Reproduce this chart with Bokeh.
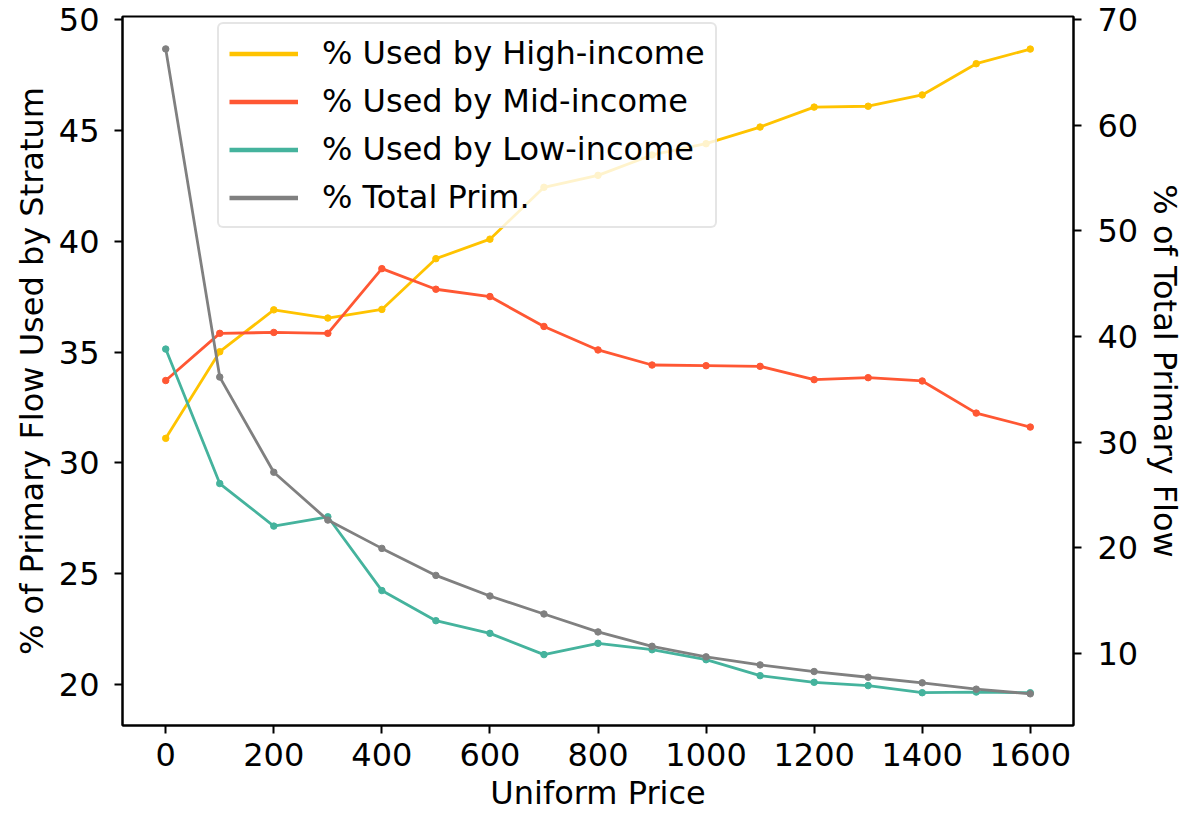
from bokeh.plotting import figure
from bokeh.models import Range1d, LinearAxis, FixedTicker, Legend, LegendItem
from bokeh.embed import file_html
from bokeh.resources import INLINE

prices = [0, 100, 200, 300, 400, 500, 600, 700, 800, 900, 1000, 1100, 1200, 1300, 1400, 1500, 1600]
high_income = [31.11, 35.02, 36.91, 36.54, 36.93, 39.22, 40.10, 42.44, 42.98, 43.90, 44.41, 45.16, 46.06, 46.10, 46.61, 48.02, 48.68]
mid_income = [33.72, 35.85, 35.89, 35.85, 38.77, 37.84, 37.51, 36.16, 35.10, 34.42, 34.39, 34.36, 33.76, 33.85, 33.70, 32.25, 31.62]
low_income = [35.14, 29.07, 27.15, 27.57, 24.24, 22.88, 22.31, 21.35, 21.86, 21.57, 21.12, 20.40, 20.10, 19.95, 19.63, 19.66, 19.63]
total_prim = [67.23, 36.16, 27.15, 22.62, 19.94, 17.38, 15.43, 13.73, 12.03, 10.67, 9.67, 8.91, 8.28, 7.74, 7.21, 6.61, 6.17]

x_ticks = [0, 200, 400, 600, 800, 1000, 1200, 1400, 1600]
left_ticks = [20, 25, 30, 35, 40, 45, 50]
right_ticks = [10, 20, 30, 40, 50, 60, 70]

labels = ["% Used by High-income", "% Used by Mid-income", "% Used by Low-income", "% Total Prim."]
colors = ["#FFC300", "#FF5733", "#45B39D", "#808080"]

FONT = "DejaVu Sans"
FS = "32px"

p = figure(width=1193, height=815, output_backend="svg", toolbar_location=None,
           x_range=Range1d(-80, 1680), y_range=Range1d(18.15, 50.15),
           min_border_left=122, min_border_right=120, min_border_top=16, min_border_bottom=90)
p.extra_y_ranges = {"right": Range1d(3.17, 70.3)}

p.xgrid.visible = False
p.ygrid.visible = False
p.outline_line_color = "black"
p.outline_line_width = 2
p.outline_line_alpha = 1.0
p.background_fill_color = "white"
p.border_fill_color = "white"

series = [high_income, mid_income, low_income, total_prim]
ranges = ["default", "default", "default", "right"]
handles = []
for ys, c, rn in zip(series, colors, ranges):
    p.line(prices, ys, line_color=c, line_width=2.8, y_range_name=rn)
    p.scatter(prices, ys, size=6.5, fill_color=c, line_color=c, y_range_name=rn)
    # single-point line: draws nothing in the plot, used only as a thicker legend handle
    handles.append(p.line(prices[:1], ys[:1], line_color=c, line_width=4.5, y_range_name=rn))

right_axis = LinearAxis(y_range_name="right", axis_label="% of Total Primary Flow")
p.add_layout(right_axis, "right")

p.xaxis.ticker = FixedTicker(ticks=x_ticks)
p.yaxis[0].ticker = FixedTicker(ticks=left_ticks)
right_axis.ticker = FixedTicker(ticks=right_ticks)
p.xaxis.axis_label = "Uniform Price"
p.yaxis[0].axis_label = "% of Primary Flow Used by Stratum"

for ax in [p.xaxis[0], p.yaxis[0], right_axis]:
    ax.axis_line_color = "black"
    ax.axis_line_width = 2
    ax.major_tick_line_color = "black"
    ax.major_tick_line_width = 2
    ax.major_tick_out = 8
    ax.major_tick_in = 0
    ax.minor_tick_line_color = None
    ax.major_label_text_font = FONT
    ax.major_label_text_font_size = FS
    ax.major_label_text_color = "black"
    ax.major_label_text_line_height = 1.0
    ax.axis_label_text_font = FONT
    ax.axis_label_text_font_size = "32px"
    ax.axis_label_text_font_style = "normal"
    ax.axis_label_text_color = "black"
    ax.axis_label_text_line_height = 1.0

p.xaxis[0].major_label_standoff = 9
p.xaxis[0].axis_label_standoff = 5
p.yaxis[0].major_label_standoff = 15
p.yaxis[0].axis_label_standoff = 5
right_axis.major_label_standoff = 16
right_axis.axis_label_standoff = 5

legend = Legend(items=[LegendItem(label=l, renderers=[r]) for l, r in zip(labels, handles)],
                location=(95, 497))
legend.label_text_font = FONT
legend.label_text_font_size = "32px"
legend.label_text_color = "black"
legend.glyph_width = 69
legend.glyph_height = 37
legend.label_height = 37
legend.spacing = 10
legend.padding = 10
legend.margin = 0
legend.label_standoff = 24
legend.border_line_color = "#cccccc"
legend.border_line_width = 2
legend.background_fill_alpha = 0.8
legend.border_radius = 6
p.add_layout(legend, "center")

open("out.html", "w").write(file_html(p, INLINE))
